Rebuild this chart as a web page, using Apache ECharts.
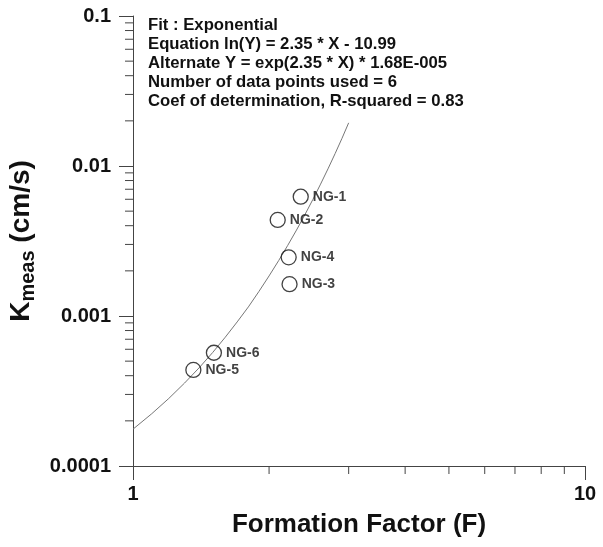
<!DOCTYPE html>
<html>
<head>
<meta charset="utf-8">
<script src="https://cdn.jsdelivr.net/npm/echarts@6/dist/echarts.min.js"></script>
<style>html,body{margin:0;padding:0;background:#fff;}#c{width:603px;height:547px;}</style>
</head>
<body>
<div id="c"></div>
<script>
// ---- data ----
var pointNames = ['NG-1', 'NG-2', 'NG-4', 'NG-3', 'NG-6', 'NG-5'];
var pointF = [2.35, 2.09, 2.21, 2.22, 1.51, 1.36];
var pointK = [0.00624, 0.00437, 0.00246, 0.00163, 0.000569, 0.000437];

var fitF = [1.0, 1.1, 1.2, 1.3, 1.4, 1.5, 1.6, 1.7, 1.8, 1.9, 2.0, 2.1, 2.2, 2.3, 2.4, 2.5, 2.6, 2.7, 2.8, 2.9, 3.0];
var fitK = [0.000176, 0.000223, 0.000282, 0.000357, 0.000451, 0.000570, 0.000722, 0.000913, 0.00115, 0.00146, 0.00185, 0.00234, 0.00296, 0.00374, 0.00473, 0.00598, 0.00757, 0.00957, 0.0121, 0.0153, 0.0194];

var xTickLabels = ['1', '10'];
var yTickLabels = ['0.0001', '0.001', '0.01', '0.1'];
var minorMultipliers = [2, 3, 4, 5, 6, 7, 8, 9];
var yDecades = [0.0001, 0.001, 0.01];
var xDecades = [1];

var noteLines = [
  'Fit : Exponential',
  'Equation ln(Y) = 2.35 * X - 10.99',
  'Alternate Y = exp(2.35 * X) * 1.68E-005',
  'Number of data points used = 6',
  'Coef of determination, R-squared = 0.83'
];

// ---- build ----
var FONT = '"Liberation Sans", Arial, sans-serif';
var xMinor = [], yMinor = [];
xDecades.forEach(function (d) { minorMultipliers.forEach(function (m) { xMinor.push([d * m, 0.0001]); }); });
yDecades.forEach(function (d) { minorMultipliers.forEach(function (m) { yMinor.push([1, d * m]); }); });

var scatterData = pointF.map(function (f, i) { return { name: pointNames[i], value: [f, pointK[i]] }; });
var fitData = fitF.map(function (f, i) { return [f, fitK[i]]; });

var chart = echarts.init(document.getElementById('c'), null, { renderer: 'canvas' });
var axisColor = '#444';
chart.setOption({
  animation: false,
  backgroundColor: '#fff',
  grid: { left: 133, right: 18, top: 16, bottom: 81, containLabel: false, outerBoundsMode: 'none' },
  xAxis: {
    type: 'log', logBase: 10, min: 1, max: 10,
    name: 'Formation Factor (F)', nameLocation: 'middle', nameGap: 46,
    nameTextStyle: { fontFamily: FONT, fontWeight: 'bold', fontSize: 26, color: '#111' },
    axisLine: { onZero: false, lineStyle: { color: axisColor, width: 1 } },
    axisTick: { inside: false, length: 14, lineStyle: { color: axisColor, width: 1 } },
    axisLabel: {
      margin: 18, fontFamily: FONT, fontWeight: 'bold', fontSize: 20, color: '#111',
      formatter: function (v) { var i = Math.round(Math.log10(v)); return xTickLabels[i] || ''; }
    },
    splitLine: { show: false }, minorTick: { show: false }
  },
  yAxis: {
    type: 'log', logBase: 10, min: 0.0001, max: 0.1,
    name: '{k|K}{s|meas}{k| (cm/s)}', nameLocation: 'middle', nameGap: 84, nameRotate: 90,
    nameTextStyle: {
      fontFamily: FONT, fontWeight: 'bold', color: '#111',
      rich: {
        k: { fontFamily: FONT, fontWeight: 'bold', fontSize: 28, color: '#111', lineHeight: 36, verticalAlign: 'middle' },
        s: { fontFamily: FONT, fontWeight: 'bold', fontSize: 20, color: '#111', lineHeight: 36, verticalAlign: 'bottom' }
      }
    },
    axisLine: { onZero: false, lineStyle: { color: axisColor, width: 1 } },
    axisTick: { inside: false, length: 14, lineStyle: { color: axisColor, width: 1 } },
    axisLabel: {
      margin: 22, fontFamily: FONT, fontWeight: 'bold', fontSize: 20, color: '#111',
      formatter: function (v) { var i = Math.round(Math.log10(v)) + 4; return yTickLabels[i] || ''; }
    },
    splitLine: { show: false }, minorTick: { show: false }
  },
  graphic: noteLines.map(function (t, i) {
    return {
      type: 'text', left: 148, top: 17 + i * 18.9, silent: true,
      style: { text: t, fontFamily: FONT, fontWeight: 'bold', fontSize: 16.7, fill: '#111' }
    };
  }),
  series: [
    {
      type: 'line', data: fitData, showSymbol: false, symbol: 'none', smooth: false,
      lineStyle: { color: '#777', width: 1 }, silent: true, z: 2
    },
    {
      type: 'scatter', data: scatterData, symbol: 'circle', symbolSize: 15,
      itemStyle: { color: 'rgba(0,0,0,0)', borderColor: '#111', borderWidth: 1.3 },
      label: {
        show: true, position: 'right', distance: 4, formatter: '{b}',
        fontFamily: FONT, fontWeight: 'bold', fontSize: 14, color: '#111'
      },
      z: 3
    },
    {
      type: 'custom', data: xMinor, clip: false, silent: true, z: 1,
      renderItem: function (params, api) {
        var p = api.coord([api.value(0), api.value(1)]);
        return { type: 'line', shape: { x1: p[0], y1: p[1], x2: p[0], y2: p[1] + 8 }, style: { stroke: axisColor, lineWidth: 1 } };
      }
    },
    {
      type: 'custom', data: yMinor, clip: false, silent: true, z: 1,
      renderItem: function (params, api) {
        var p = api.coord([api.value(0), api.value(1)]);
        return { type: 'line', shape: { x1: p[0] - 8, y1: p[1], x2: p[0], y2: p[1] }, style: { stroke: axisColor, lineWidth: 1 } };
      }
    }
  ]
});
</script>
</body>
</html>
